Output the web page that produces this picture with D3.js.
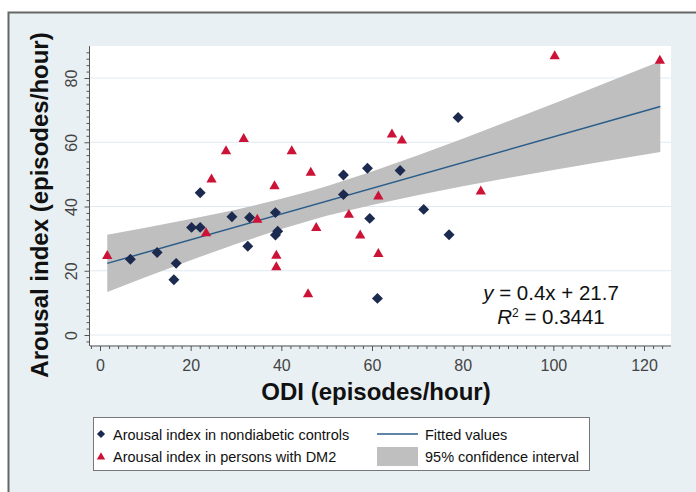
<!DOCTYPE html>
<html>
<head>
<meta charset="utf-8">
<script src="https://cdn.jsdelivr.net/npm/d3@7"></script>
<style>
  body { margin: 0; background: #fff; }
  svg { display: block; font-family: "Liberation Sans", Arial, Helvetica, sans-serif; }
</style>
</head>
<body>
<svg id="chart" width="696" height="492"></svg>
<script>
// arousal index vs ODI
const ctrlX = [6.7, 12.6, 16.3, 16.8, 20.2, 22.1, 22.1, 29.1, 32.6, 33.0, 38.7, 38.7, 39.2, 53.7, 53.7, 59.0, 59.5, 61.2, 66.2, 71.4, 77.0, 79.0];
const ctrlY = [23.6, 25.7, 17.2, 22.3, 33.5, 33.5, 44.3, 36.8, 27.6, 36.6, 38.1, 31.1, 32.3, 49.8, 43.7, 51.9, 36.3, 11.4, 51.2, 39.1, 31.2, 67.7];

const dm2X = [1.6, 23.4, 24.6, 27.8, 31.7, 34.7, 38.5, 38.9, 38.9, 42.3, 45.9, 46.5, 47.7, 54.9, 57.4, 61.4, 61.4, 64.4, 66.6, 84.0, 100.3, 123.5];
const dm2Y = [24.6, 31.7, 48.4, 57.2, 61.0, 35.9, 46.3, 24.7, 21.1, 57.2, 12.7, 50.5, 33.3, 37.4, 31.0, 43.1, 25.2, 62.4, 60.5, 44.7, 86.8, 85.4];

// fitted line and 95% CI band
const fitX = [1.6, 123.6];
const fitY = [22.3, 71.1];
const bandX = [1.6, 10, 20, 30, 40, 46, 50, 60, 70, 80, 90, 100, 110, 123.6];
const bandLo = [13.4, 18.0, 23.3, 28.3, 33.0, 35.5, 37.1, 40.5, 43.5, 46.3, 48.9, 51.4, 53.8, 57.0];
const bandHi = [31.2, 33.4, 36.1, 39.0, 42.4, 44.7, 46.3, 50.9, 55.9, 61.1, 66.5, 72.0, 77.6, 85.2];

const xTicks = [0, 20, 40, 60, 80, 100, 120];
const yTicks = [0, 20, 40, 60, 80];

const navy = "#1b2a4e";
const red = "#cc1236";
const lineColor = "#2b5d8a";
const bandColor = "#bfbfbf";

const plot = { left: 90, right: 671, top: 46, bottom: 345 };

const svg = d3.select("#chart");

// outer frame
svg.append("rect")
  .attr("x", 8.5).attr("y", 12.5)
  .attr("width", 720).attr("height", 520)
  .attr("fill", "#e8f0f3")
  .attr("stroke", "#666")
  .attr("stroke-width", 2);

svg.append("rect")
  .attr("x", plot.left).attr("y", plot.top)
  .attr("width", plot.right - plot.left)
  .attr("height", plot.bottom - plot.top)
  .attr("fill", "#fff");

const x = d3.scaleLinear().domain([0, 120]).range([100, 644]);
const y = d3.scaleLinear().domain([0, 80]).range([335, 78]);

// grid
svg.append("g")
  .selectAll("line")
  .data(yTicks)
  .join("line")
  .attr("x1", plot.left).attr("x2", plot.right)
  .attr("y1", d => y(d)).attr("y2", d => y(d))
  .attr("stroke", "#dfeaf2")
  .attr("stroke-width", 1);

// CI band
const band = bandX.map((d, i) => ({ x: d, lo: bandLo[i], hi: bandHi[i] }));
svg.append("path")
  .datum(band)
  .attr("fill", bandColor)
  .attr("d", d3.area().x(d => x(d.x)).y0(d => y(d.lo)).y1(d => y(d.hi)));

svg.append("path")
  .datum(fitX.map((d, i) => [d, fitY[i]]))
  .attr("fill", "none")
  .attr("stroke", lineColor)
  .attr("stroke-width", 1.5)
  .attr("d", d3.line().x(d => x(d[0])).y(d => y(d[1])));

// points
const diamond = d3.symbol().type(d3.symbolSquare).size(60);
const triangle = d3.symbol().type(d3.symbolTriangle).size(46);

svg.append("g")
  .selectAll("path")
  .data(dm2X.map((d, i) => [d, dm2Y[i]]))
  .join("path")
  .attr("transform", d => `translate(${x(d[0])},${y(d[1])})`)
  .attr("d", triangle)
  .attr("fill", red);

svg.append("g")
  .selectAll("path")
  .data(ctrlX.map((d, i) => [d, ctrlY[i]]))
  .join("path")
  .attr("transform", d => `translate(${x(d[0])},${y(d[1])}) rotate(45)`)
  .attr("d", diamond)
  .attr("fill", navy);

// axes
const axisColor = "#555";

const gx = svg.append("g").attr("transform", `translate(0,${plot.bottom + 1})`);
gx.call(d3.axisBottom(x).tickValues(d3.range(-2, 126, 2).filter(d => d % 20 !== 0)).tickSize(3).tickFormat(""));
gx.call(g => g.select(".domain").remove());
const gxMajor = svg.append("g").attr("transform", `translate(0,${plot.bottom + 1})`)
  .call(d3.axisBottom(x).tickValues(xTicks).tickSize(5));
gxMajor.select(".domain").remove();
gxMajor.selectAll("text")
  .attr("y", 25).attr("dy", 0)
  .attr("font-size", 16)
  .attr("fill", "#444");
svg.selectAll(".tick line").attr("stroke", axisColor);
svg.append("line")
  .attr("x1", plot.left).attr("x2", plot.right)
  .attr("y1", plot.bottom + 1).attr("y2", plot.bottom + 1)
  .attr("stroke", axisColor);

const gy = svg.append("g").attr("transform", `translate(${plot.left - 0.5},0)`);
gy.call(d3.axisLeft(y).tickValues(d3.range(-2, 90, 2).filter(d => d % 20 !== 0)).tickSize(3).tickFormat(""));
gy.select(".domain").remove();
const gyMajor = svg.append("g").attr("transform", `translate(${plot.left - 0.5},0)`)
  .call(d3.axisLeft(y).tickValues(yTicks).tickSize(5));
gyMajor.select(".domain").remove();
gyMajor.selectAll("text")
  .attr("x", 0).attr("y", -12.5).attr("dy", 0)
  .attr("text-anchor", "middle")
  .attr("transform", "rotate(-90)")
  .attr("font-size", 16)
  .attr("fill", "#444");
svg.selectAll(".tick line").attr("stroke", axisColor);
svg.append("line")
  .attr("x1", plot.left - 0.5).attr("x2", plot.left - 0.5)
  .attr("y1", plot.top).attr("y2", plot.bottom + 1)
  .attr("stroke", axisColor);

// axis titles
svg.append("text")
  .attr("x", 376).attr("y", 400)
  .attr("text-anchor", "middle")
  .attr("font-size", 24)
  .attr("font-weight", "bold")
  .attr("fill", "#111")
  .text("ODI (episodes/hour)");

svg.append("text")
  .attr("transform", "translate(48,205) rotate(-90)")
  .attr("text-anchor", "middle")
  .attr("font-size", 24)
  .attr("font-weight", "bold")
  .attr("fill", "#111")
  .text("Arousal index (episodes/hour)");

// equation
const eq = svg.append("g").attr("font-size", 20.5).attr("fill", "#111").attr("text-anchor", "middle");
const eq1 = eq.append("text").attr("x", 551).attr("y", 299.5);
eq1.append("tspan").attr("font-style", "italic").text("y");
eq1.append("tspan").text(" = 0.4x + 21.7");
const eq2 = eq.append("text").attr("x", 551).attr("y", 323.5);
eq2.append("tspan").attr("font-style", "italic").text("R");
eq2.append("tspan").attr("font-size", 12).attr("dy", -7).text("2");
eq2.append("tspan").attr("dy", 7).text(" = 0.3441");

// legend
const legend = svg.append("g").attr("font-size", 14.5).attr("fill", "#111");
legend.append("rect")
  .attr("x", 93.5).attr("y", 417.5)
  .attr("width", 496).attr("height", 53)
  .attr("fill", "#fff")
  .attr("stroke", "#777");

legend.append("path")
  .attr("transform", "translate(101,434) rotate(45)")
  .attr("d", d3.symbol().type(d3.symbolSquare).size(34))
  .attr("fill", navy);
legend.append("text").attr("x", 113).attr("y", 440).text("Arousal index in nondiabetic controls");

legend.append("path")
  .attr("transform", "translate(101,457)")
  .attr("d", d3.symbol().type(d3.symbolTriangle).size(30))
  .attr("fill", red);
legend.append("text").attr("x", 113).attr("y", 462).text("Arousal index in persons with DM2");

legend.append("line")
  .attr("x1", 377).attr("x2", 418)
  .attr("y1", 434).attr("y2", 434)
  .attr("stroke", lineColor)
  .attr("stroke-width", 1.5);
legend.append("text").attr("x", 425).attr("y", 440).text("Fitted values");

legend.append("rect")
  .attr("x", 377).attr("y", 447)
  .attr("width", 41).attr("height", 19)
  .attr("fill", bandColor);
legend.append("text").attr("x", 425).attr("y", 462).text("95% confidence interval");
</script>
</body>
</html>
